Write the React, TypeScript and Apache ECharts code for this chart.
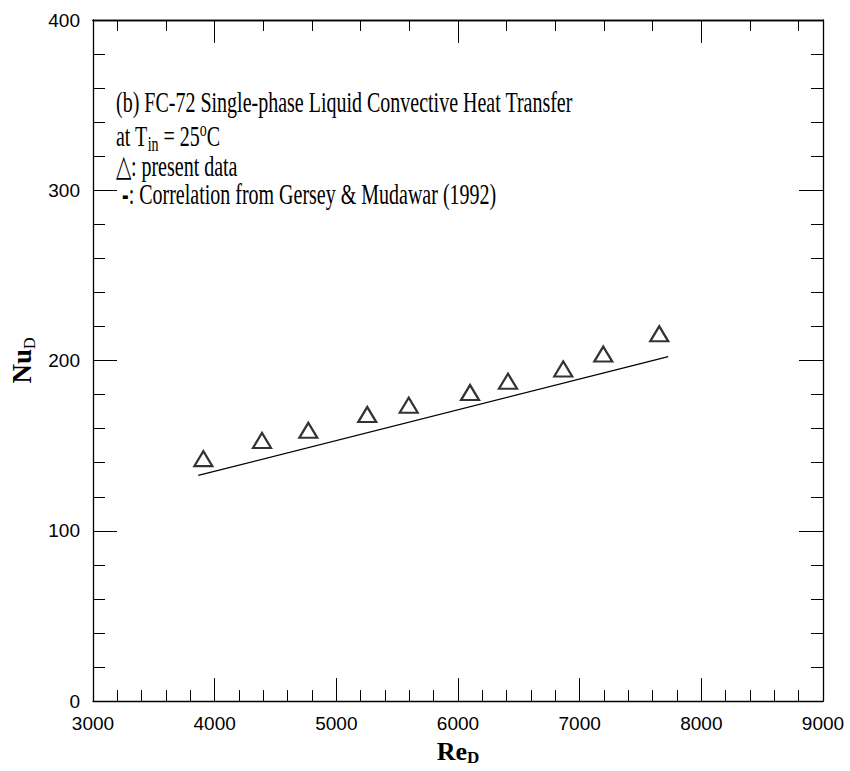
import React, { useEffect, useRef } from "react";
import * as echarts from "echarts";

// Present data (triangles)
const reValues = [3907, 4389, 4770, 5254, 5595, 6099, 6411, 6865, 7194, 7654];
const nuValues = [142.4, 153.1, 159.0, 168.3, 173.8, 181.2, 187.9, 195.1, 203.8, 215.7];

// Correlation from Gersey & Mudawar (1992)
const corrRe = [3865, 7728];
const corrNu = [132.5, 202.3];

// Axis ranges / ticks
const xMin = 3000;
const xMax = 9000;
const xInterval = 1000;
const yMin = 0;
const yMax = 400;
const yInterval = 100;
const topMajorTicks = [4000, 6000, 8000];
const topMinorTicks = [3200, 3600, 4000, 4400, 4800, 5200, 5600, 6000, 6400, 6800, 7200, 7600, 8000, 8400, 8800];

// Annotation texts
const line1 = "(b) FC-72 Single-phase Liquid Convective Heat Transfer";
const line2 = "at T{sub|in} = 25{sup|o}C";
const line3 = "\u25B3: present data";
const line4 = "{d|-}: Correlation from Gersey & Mudawar (1992)";

const SERIF = "'Liberation Serif', 'Times New Roman', serif";
const SANS = "'Liberation Sans', Arial, sans-serif";

export default function App() {
  const ref = useRef<HTMLDivElement>(null);

  useEffect(() => {
    if (!ref.current) return;
    const chart = echarts.init(ref.current, undefined, { renderer: "svg" });

    const axisLine = { show: true, onZero: false, lineStyle: { color: "#000", width: 1.3 } };
    const tickStyle = { color: "#000", width: 1 };
    const labelStyle = {
      color: "#000",
      fontFamily: SANS,
      fontSize: 19,
      formatter: (v: number) => String(v),
    };

    const scatterData = reValues.map((x, i) => [x, nuValues[i]]);
    const corrData = corrRe.map((x, i) => [x, corrNu[i]]);

    const textStyleBase = { fontFamily: SERIF, fontSize: 20, fill: "#000", verticalAlign: "middle" as const };
    const SY = 1.5;

    chart.setOption({
      animation: false,
      backgroundColor: "#fff",
      grid: { left: 93, right: 27, top: 20, bottom: 64, containLabel: false },
      xAxis: [
        {
          type: "value",
          position: "bottom",
          min: xMin,
          max: xMax,
          interval: xInterval,
          axisLine,
          axisTick: { show: true, inside: true, length: 23, lineStyle: tickStyle },
          minorTick: { show: true, splitNumber: 5, length: 11, lineStyle: tickStyle },
          splitLine: { show: false },
          axisLabel: { ...labelStyle, margin: 13 },
          name: "{a|Re}{b|D}",
          nameLocation: "middle",
          nameGap: 33,
          nameTextStyle: {
            rich: {
              a: { fontFamily: SERIF, fontSize: 26, fontWeight: "bold", color: "#000", lineHeight: 30 },
              b: { fontFamily: SERIF, fontSize: 17, fontWeight: "bold", color: "#000", lineHeight: 14, verticalAlign: "bottom" },
            },
          },
        },
        {
          type: "value",
          position: "top",
          min: xMin,
          max: xMax,
          axisLine,
          axisTick: { show: true, inside: true, length: 23, lineStyle: tickStyle, customValues: topMajorTicks },
          axisLabel: { show: false },
          splitLine: { show: false },
        },
        {
          type: "value",
          position: "top",
          min: xMin,
          max: xMax,
          axisLine,
          axisTick: { show: true, inside: true, length: 11, lineStyle: tickStyle, customValues: topMinorTicks },
          axisLabel: { show: false },
          splitLine: { show: false },
        },
      ],
      yAxis: [
        {
          type: "value",
          position: "left",
          min: yMin,
          max: yMax,
          interval: yInterval,
          axisLine,
          axisTick: { show: true, inside: true, length: 24, lineStyle: tickStyle },
          minorTick: { show: true, splitNumber: 5, length: 12, lineStyle: tickStyle },
          splitLine: { show: false },
          axisLabel: { ...labelStyle, margin: 13 },
          name: "{a|Nu}{b|D}",
          nameLocation: "middle",
          nameRotate: 90,
          nameGap: 55,
          nameTextStyle: {
            rich: {
              a: { fontFamily: SERIF, fontSize: 27, fontWeight: "bold", color: "#000", lineHeight: 30 },
              b: { fontFamily: SERIF, fontSize: 16, color: "#000", lineHeight: 14, verticalAlign: "bottom" },
            },
          },
        },
        {
          type: "value",
          position: "right",
          min: yMin,
          max: yMax,
          interval: yInterval,
          axisLine,
          axisTick: { show: true, inside: true, length: 24, lineStyle: tickStyle },
          minorTick: { show: true, splitNumber: 5, length: 12, lineStyle: tickStyle },
          splitLine: { show: false },
          axisLabel: { show: false },
        },
      ],
      series: [
        {
          name: "Correlation",
          type: "line",
          xAxisIndex: 0,
          yAxisIndex: 0,
          data: corrData,
          showSymbol: false,
          symbol: "none",
          lineStyle: { color: "#000", width: 1.3 },
          z: 2,
        },
        {
          name: "present data",
          type: "scatter",
          xAxisIndex: 0,
          yAxisIndex: 0,
          data: scatterData,
          symbol: "triangle",
          symbolSize: [18, 15],
          itemStyle: { color: "transparent", borderColor: "#000", borderWidth: 2.2 },
          z: 3,
        },
      ],
      graphic: [
        {
          type: "text",
          x: 116,
          y: 102,
          scaleY: SY,
          style: { ...textStyleBase, text: line1 },
        },
        {
          type: "text",
          x: 116,
          y: 136,
          scaleY: SY,
          style: {
            ...textStyleBase,
            text: line2,
            lineHeight: 24,
            rich: {
              sub: { fontFamily: SERIF, fontSize: 14, fill: "#000", lineHeight: 12, verticalAlign: "bottom" },
              sup: { fontFamily: SERIF, fontSize: 14, fill: "#000", lineHeight: 12, verticalAlign: "top" },
            },
          },
        },
        {
          type: "text",
          x: 116,
          y: 166,
          scaleY: SY,
          style: { ...textStyleBase, text: line3 },
        },
        {
          type: "text",
          x: 122,
          y: 194,
          scaleY: SY,
          style: {
            ...textStyleBase,
            text: line4,
            rich: {
              d: { fontFamily: SANS, fontSize: 20, fontWeight: "bold", fill: "#000" },
            },
          },
        },
      ],
    });

    return () => {
      chart.dispose();
    };
  }, []);

  return (
    <div
      ref={ref}
      style={{ position: "absolute", left: 0, top: 0, width: 850, height: 771, background: "#fff" }}
    />
  );
}
